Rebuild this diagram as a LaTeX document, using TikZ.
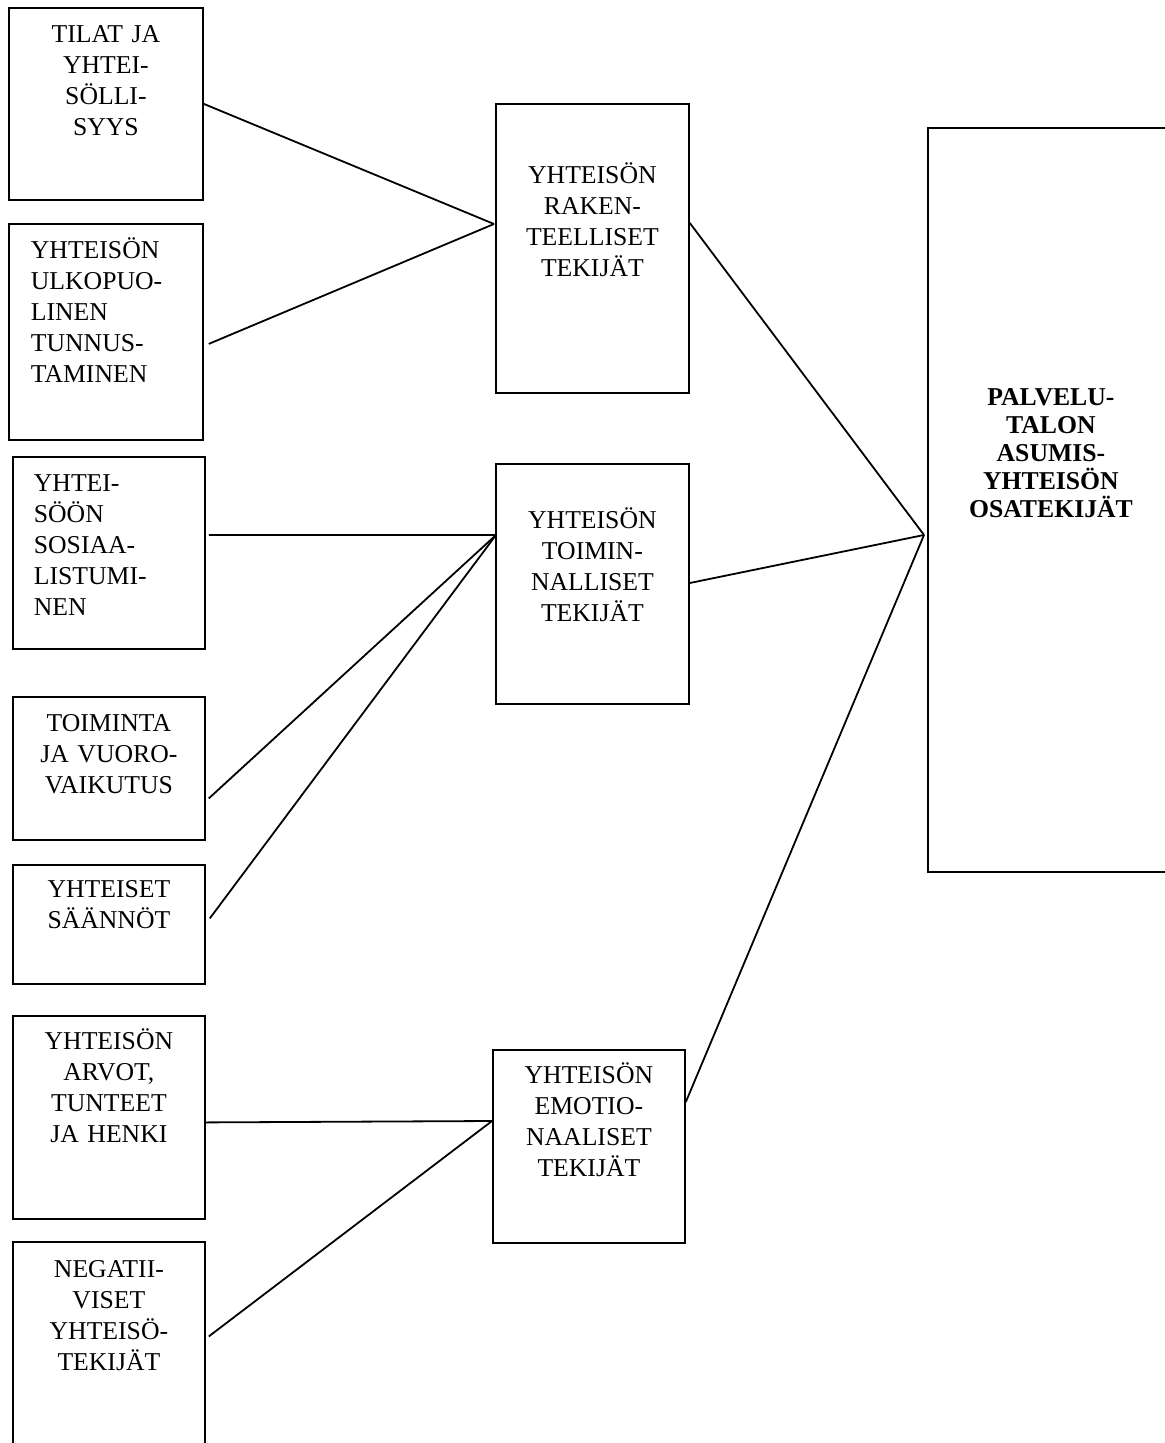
\documentclass[tikz,border=0pt]{standalone}
\usepackage{fontspec}
\setmainfont{Liberation Serif}
\tikzset{
  box/.style={draw, line width=0.9pt, anchor=north west, inner ysep=0pt, inner xsep=3pt,
    align=center, font=\fontsize{12.85}{15.5}\selectfont},
  link/.style={line width=0.9pt},
}

\begin{document}
\begin{tikzpicture}[x=0.5pt, y=-0.5pt]
      \useasboundingbox (0,0) rectangle (1164,1443);
      \node[box, text width=91pt, text height=17.5pt, text depth=78.5pt] (tilat) at (8,7) {TILAT JA\\YHTEI-\\SÖLLI-\\SYYS};
      \node[box, align=left, inner xsep=11pt, text width=75pt, text height=17.5pt, text depth=90.5pt] (ulko) at (8,223) {YHTEISÖN\\ULKOPUO-\\LINEN\\TUNNUS-\\TAMINEN};
      \node[box, align=left, inner xsep=10.5pt, text width=75pt, text height=17.5pt, text depth=78.5pt] (sosiaal) at (12,456) {YHTEI-\\SÖÖN\\SOSIAA-\\LISTUMI-\\NEN};
      \node[box, text width=90pt, text height=17.5pt, text depth=54pt] (toiminta) at (12,696) {TOIMINTA\\JA VUORO-\\VAIKUTUS};
      \node[box, text width=90pt, text height=16.5pt, text depth=43pt] (saannot) at (12,864) {YHTEISET\\SÄÄNNÖT};
      \node[box, text width=90pt, text height=17pt, text depth=84.5pt] (arvot) at (12,1015) {YHTEISÖN\\ARVOT,\\TUNTEET\\JA HENKI};
      \node[box, text width=90pt, text height=18pt, text depth=96.5pt] (negat) at (12,1241) {NEGATII-\\VISET\\YHTEISÖ-\\TEKIJÄT};
      \node[box, text width=90.5pt, text height=40pt, text depth=104.5pt] (rakenteel) at (495,103) {YHTEISÖN\\RAKEN-\\TEELLISET\\TEKIJÄT};
      \node[box, text width=90.5pt, text height=32.5pt, text depth=87.5pt] (toimin) at (495,463) {YHTEISÖN\\TOIMIN-\\NALLISET\\TEKIJÄT};
      \node[box, text width=90pt, text height=17pt, text depth=79.5pt] (emotio) at (492,1049) {YHTEISÖN\\EMOTIO-\\NAALISET\\TEKIJÄT};
      \node[box, text width=117pt, text height=139pt, text depth=233pt, font=\fontsize{12.85}{14}\selectfont\bfseries] (osatek) at (927,127) {PALVELU-\\TALON\\ASUMIS-\\YHTEISÖN\\OSATEKIJÄT};
      \coordinate (inA) at ([shift={(-1,121)}]rakenteel.north west);
      \coordinate (inB) at ([shift={(1,72)}]toimin.north west);
      \coordinate (inC) at ([shift={(0,72)}]emotio.north west);
      \coordinate (inP) at ([shift={(-3,408)}]osatek.north west);
      \draw[link] (tilat.east) -- (inA);
      \draw[link] ([shift={(5,12)}]ulko.east) -- (inA);
      \draw[link] ([shift={(3,-18)}]sosiaal.east) -- (inB);
      \draw[link] ([shift={(3,30)}]toiminta.east) -- (inB);
      \draw[link] ([shift={(4,-6)}]saannot.east) -- (inB);
      \draw[link] ([shift={(0,5)}]arvot.east) -- (inC);
      \draw[link] ([shift={(3,-20)}]negat.east) -- (inC);
      \draw[link] ([shift={(0,120)}]rakenteel.north east) -- (inP);
      \draw[link] ([shift={(0,120)}]toimin.north east) -- (inP);
      \draw[link] ([shift={(0,53)}]emotio.north east) -- (inP);
    \end{tikzpicture}
\end{document}
